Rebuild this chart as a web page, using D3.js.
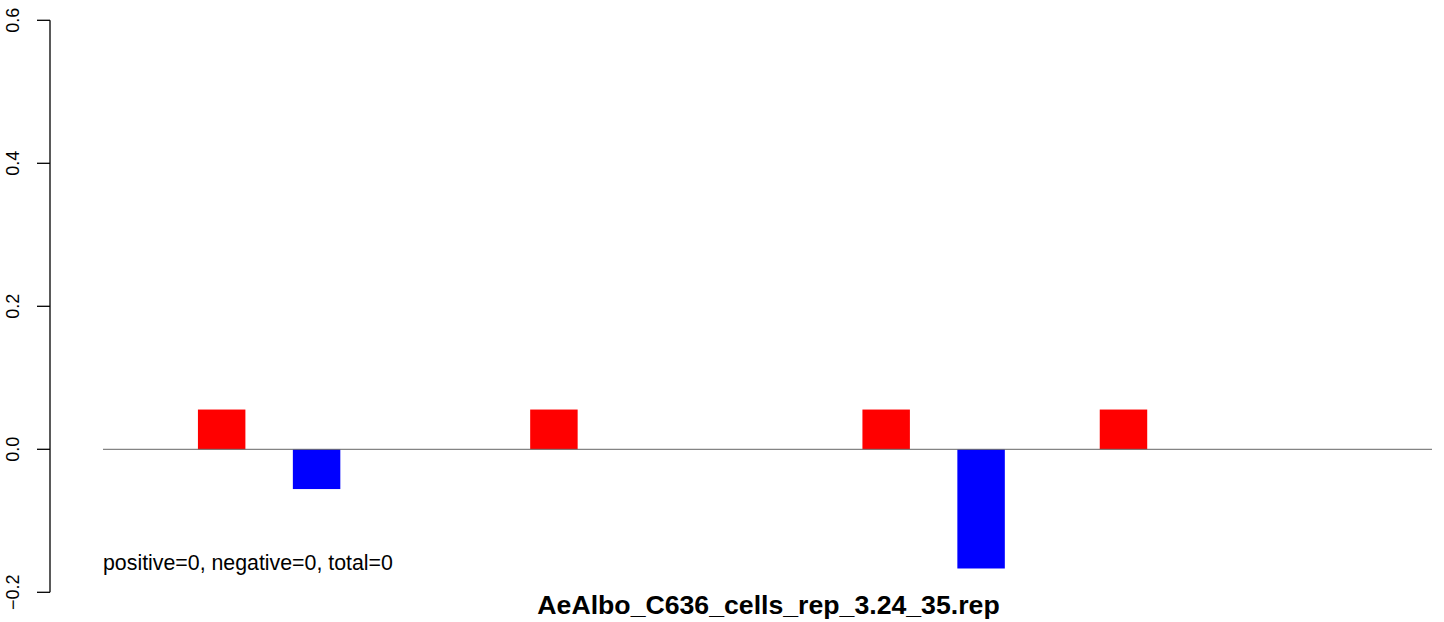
<!DOCTYPE html>
<html>
<head>
<meta charset="utf-8">
<script src="https://cdn.jsdelivr.net/npm/d3@7"></script>
<style>
  html, body { margin: 0; padding: 0; background: #fff; }
  svg { display: block; }
</style>
</head>
<body>
<svg id="chart" width="1444" height="622"></svg>
<script>
// ---- data ----
const categories = d3.range(1, 29);           // 28 slots
const values = [0, 0, 0.0556, 0, -0.0556, 0, 0, 0, 0, 0.0556, 0, 0, 0, 0,
                0, 0, 0.0556, 0, -0.1667, 0, 0, 0.0556, 0, 0, 0, 0, 0, 0];
const yTicks = [-0.2, 0, 0.2, 0.4, 0.6];
const noteText = "positive=0, negative=0, total=0";
const titleText = "AeAlbo_C636_cells_rep_3.24_35.rep";

// ---- layout ----
const W = 1444, H = 622;
const plotLeft = 103, plotRight = 1432;
const svg = d3.select("#chart");
const font = "'Liberation Sans', Arial, Helvetica, sans-serif";

const x = d3.scaleBand().domain(categories).range([plotLeft, plotRight]).padding(0);
const y = d3.scaleLinear().domain([-0.2, 0.6]).range([592.3, 20.3]);

const data = categories.map((c, i) => ({ c, v: values[i] }));

// bars
svg.append("g").selectAll("rect")
  .data(data.filter(d => d.v !== 0))
  .join("rect")
  .attr("x", d => x(d.c))
  .attr("width", x.bandwidth())
  .attr("y", d => d.v > 0 ? y(d.v) : y(0))
  .attr("height", d => Math.abs(y(d.v) - y(0)))
  .attr("fill", d => d.v > 0 ? "#ff0000" : "#0000ff");

// zero line
svg.append("line")
  .attr("x1", plotLeft).attr("x2", plotRight)
  .attr("y1", y(0)).attr("y2", y(0))
  .attr("stroke", "#666").attr("stroke-width", 1);

// y axis
const axisX = 50;
const gy = svg.append("g").attr("transform", `translate(${axisX},0)`);
gy.append("line")
  .attr("x1", 0).attr("x2", 0)
  .attr("y1", y(-0.2)).attr("y2", y(0.6))
  .attr("stroke", "#000").attr("stroke-width", 1.3);
gy.selectAll("line.tick")
  .data(yTicks).join("line").attr("class", "tick")
  .attr("x1", -13).attr("x2", 0)
  .attr("y1", d => y(d)).attr("y2", d => y(d))
  .attr("stroke", "#000").attr("stroke-width", 1.3);
const fmt = d => (d < 0 ? "\u2212" : "") + Math.abs(d).toFixed(1);
svg.append("g").selectAll("text")
  .data(yTicks).join("text")
  .attr("transform", d => `translate(18.5,${y(d)}) rotate(-90)`)
  .attr("text-anchor", "middle")
  .attr("font-family", font)
  .attr("font-size", "18px")
  .attr("fill", "#000")
  .text(fmt);

// note text
svg.append("text")
  .attr("x", plotLeft).attr("y", 570)
  .attr("font-family", font)
  .attr("font-size", "21.33px")
  .attr("fill", "#000")
  .text(noteText);

// title
svg.append("text")
  .attr("x", (plotLeft + plotRight) / 2 + 1).attr("y", 614.3)
  .attr("text-anchor", "middle")
  .attr("font-family", font)
  .attr("font-weight", "bold")
  .attr("font-size", "26.67px")
  .attr("fill", "#000")
  .text(titleText);
</script>
</body>
</html>
